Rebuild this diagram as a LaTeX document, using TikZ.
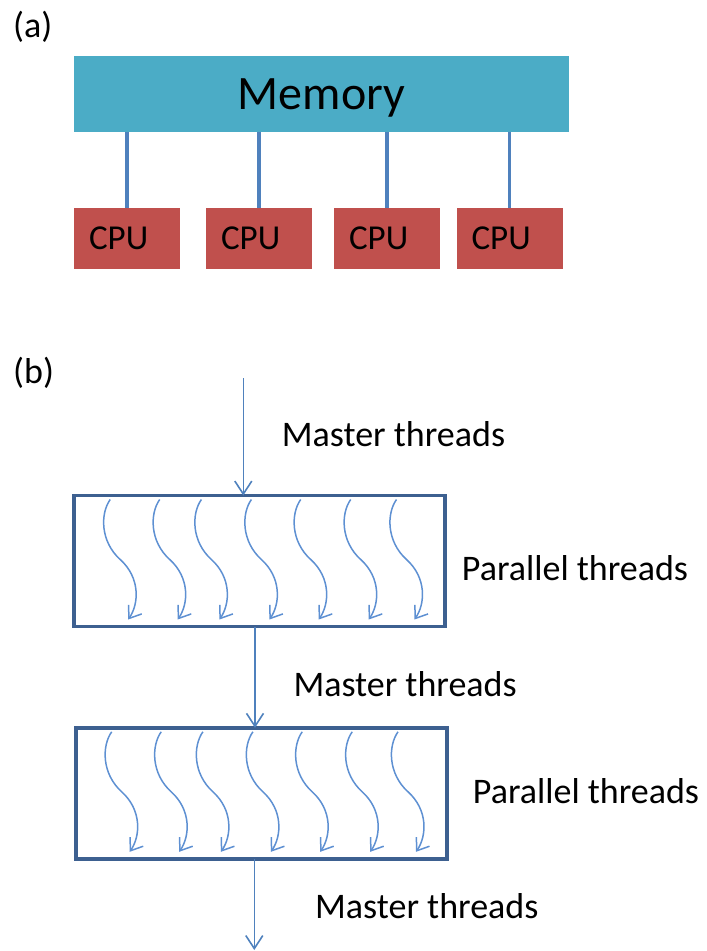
\documentclass[tikz,border=0pt]{standalone}
\usepackage{fontspec}
\setmainfont{Carlito}
\usetikzlibrary{arrows.meta}

\definecolor{memfill}{HTML}{4BACC6}
\definecolor{cpufill}{HTML}{C0504D}
\definecolor{busblue}{HTML}{4F81BD}
\definecolor{frameblue}{HTML}{3D6090}
\definecolor{threadblue}{HTML}{5E90D2}

\tikzset{
  txt/.style={font=\fontsize{36}{40}\selectfont, inner sep=0pt, anchor=base west},
  membox/.style={fill=memfill, minimum width=495pt, minimum height=76pt,
    inner sep=0pt, text depth=0pt, font=\fontsize{48}{52}\selectfont},
  cpubox/.style={fill=cpufill, minimum width=106pt, minimum height=61pt,
    inner xsep=15pt, inner ysep=0pt, text width=76pt, align=left,
    font=\fontsize{35}{40}\selectfont},
  bus/.style={busblue, line width=3.2pt},
  regionbox/.style={draw=frameblue, line width=3.6pt, minimum width=371pt,
    minimum height=131pt, inner sep=0pt, outer sep=0pt},
  flow/.style={busblue, line width=1.6pt, -{Straight Barb[length=13pt,width=17pt]}},
  thread/.style={threadblue, line width=1.5pt, -{Straight Barb[length=11pt,width=16pt]}},
}

% one wavy thread arrow, starting at (#1,4) relative to the enclosing scope
\newcommand{\threadcurve}[1]{%
  \begin{scope}[shift={(#1,4)}]
    \draw[thread] (0,0) .. controls (-10,14) and (-10,42) .. (10,60)
      .. controls (30,78) and (29,104) .. (18,120);
  \end{scope}}

\begin{document}
\begin{tikzpicture}[x=1pt, y=-1pt]
\useasboundingbox (0,0) rectangle (707,951);

% (a) shared memory with four processors
\node[txt] (labA) at (13,37) {(a)};
\node[membox] (mem) at (321.5,94) {Memory};
\node[cpubox] (cpu1) at (127,238.5) {CPU};
\node[cpubox] (cpu2) at (259,238.5) {CPU};
\node[cpubox] (cpu3) at (387,238.5) {CPU};
\node[cpubox] (cpu4) at (509.5,238.5) {CPU};
\foreach \c in {cpu1,cpu2,cpu3,cpu4}
  \draw[bus] (\c.north) -- (\c.north |- mem.south);

% (b) fork-join execution
\node[txt] (labB) at (13,383) {(b)};
\node[regionbox] (b1) at (259.7,561) {};
\node[regionbox] (b2) at (261.2,793.3) {};

\coordinate (start) at (243.3,378);
\coordinate (join) at (255,0);
\coordinate (finish) at (254.3,950);
\draw[flow] (start) -- (start |- b1.north);
\draw[flow] (b1.south -| join) -- (b2.north -| join);
\draw[flow] (b2.south -| finish) -- (finish);

\foreach \b in {b1,b2}{
  \begin{scope}[shift={(\b.north west)}]
    \foreach \s in {36,85.5,127.2,177.2,226.5,276.5,322.3}{\threadcurve{\s}}
  \end{scope}
}

\node[txt] (m1) at (281.7,446.7) {Master threads};
\node[txt] (p1) at (461.7,580) {Parallel threads};
\node[txt] (m2) at (293.3,696.7) {Master threads};
\node[txt] (p2) at (472.7,803.3) {Parallel threads};
\node[txt] (m3) at (315,918.3) {Master threads};
\end{tikzpicture}
\end{document}
